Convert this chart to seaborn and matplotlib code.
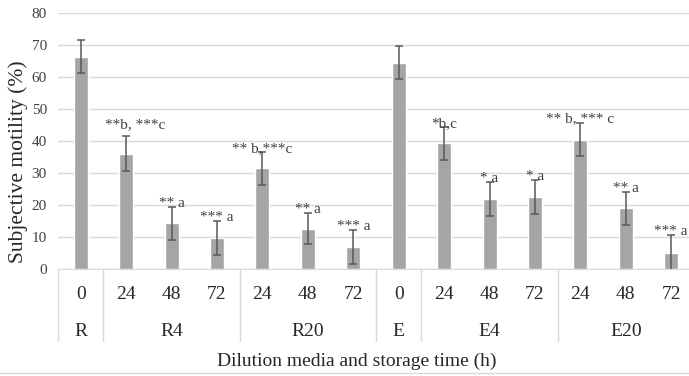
import matplotlib
matplotlib.use('Agg')
import matplotlib.pyplot as plt
import matplotlib.transforms as mtransforms
from matplotlib.lines import Line2D
import seaborn as sns
import pandas as pd

# values
groups = ['R', 'R4', 'R4', 'R4', 'R20', 'R20', 'R20',
          'E', 'E4', 'E4', 'E4', 'E20', 'E20', 'E20']
times = [0, 24, 48, 72, 24, 48, 72, 0, 24, 48, 72, 24, 48, 72]
motility = [66.4, 36.1, 14.3, 9.8, 31.5, 12.6, 6.8,
            64.6, 39.3, 22.0, 22.6, 40.5, 19.0, 5.0]
sd = [5.2, 5.4, 5.1, 5.3, 5.2, 4.9, 5.3,
      5.2, 5.2, 5.3, 5.4, 5.3, 5.2, 5.5]
signif = ['', '**b, ***c', '** a', '*** a', '** b,***c', '** a', '*** a',
          '', '*b,c', '* a', '* a', '** b, *** c', '** a', '*** a']

df = pd.DataFrame({'group': groups, 'time': times, 'motility': motility, 'sd': sd})
df['cond'] = df['group'] + '_' + df['time'].astype(str)

sns.set_style('white')
plt.rcParams['font.family'] = ['Liberation Serif', 'DejaVu Serif']

fig = plt.figure(figsize=(6.89, 3.76), dpi=100)
ax = fig.add_axes([0.0842, 0.2846, 0.923, 0.68])

sns.barplot(data=df, x='cond', y='motility', order=list(df['cond']),
            color='#A5A5A5', saturation=1, width=0.31, errorbar=None, ax=ax)
ax.errorbar(range(len(df)), df['motility'], yerr=df['sd'], fmt='none',
            ecolor='#595959', elinewidth=1.1, capsize=3, capthick=1.1)

ax.set_ylim(0, 80)
ax.set_xlim(-0.5, len(df) - 0.5)
ax.set_yticks(range(0, 81, 10))
ax.tick_params(axis='y', labelsize=11, length=0, pad=8, colors='#404040')
ax.yaxis.grid(True, color='#D9D9D9', linewidth=1)
ax.set_axisbelow(True)
for s in ['top', 'right', 'left']:
    ax.spines[s].set_visible(False)
ax.spines['bottom'].set_color('#D9D9D9')
ax.set_xticks([])
ax.set_xlabel('')
ax.set_ylabel('')
fig.text(0.026, 0.57, 'Subjective motility (%)', rotation=90, ha='center',
         va='center', fontsize=15.5, color='#262626')

# significance labels above error bars
for i, txt in enumerate(signif):
    if txt:
        dx = 0.2 if i == 1 else 0
        dy = 2.4 if i == 1 else 0
        ax.text(i + dx, df['motility'][i] + df['sd'][i] + dy, txt,
                ha='center', va='baseline', fontsize=11, color='#404040')

# two-level category axis
trans = mtransforms.blended_transform_factory(ax.transData, ax.transAxes)
for i, t in enumerate(times):
    ax.text(i, -0.098, str(t), transform=trans, ha='center', va='center',
            fontsize=14, color='#262626')

bounds = [-0.5]
for i in range(1, len(groups)):
    if groups[i] != groups[i - 1]:
        bounds.append(i - 0.5)
bounds.append(len(groups) - 0.5)
for a, b in zip(bounds[:-1], bounds[1:]):
    ax.text((a + b) / 2, -0.245, groups[int(a + 0.5)], transform=trans,
            ha='center', va='center', fontsize=14, color='#262626')
for b in bounds:
    ax.plot([b, b], [0, -0.282], transform=trans, color='#D9D9D9',
            linewidth=1, clip_on=False)

fig.text(0.518, 0.04, 'Dilution media and storage time (h)', ha='center',
         va='center', fontsize=14, color='#262626')
fig.add_artist(Line2D([0, 1], [0.008, 0.008], color='#D9D9D9', linewidth=1))

fig.savefig('out.png', dpi=100)
